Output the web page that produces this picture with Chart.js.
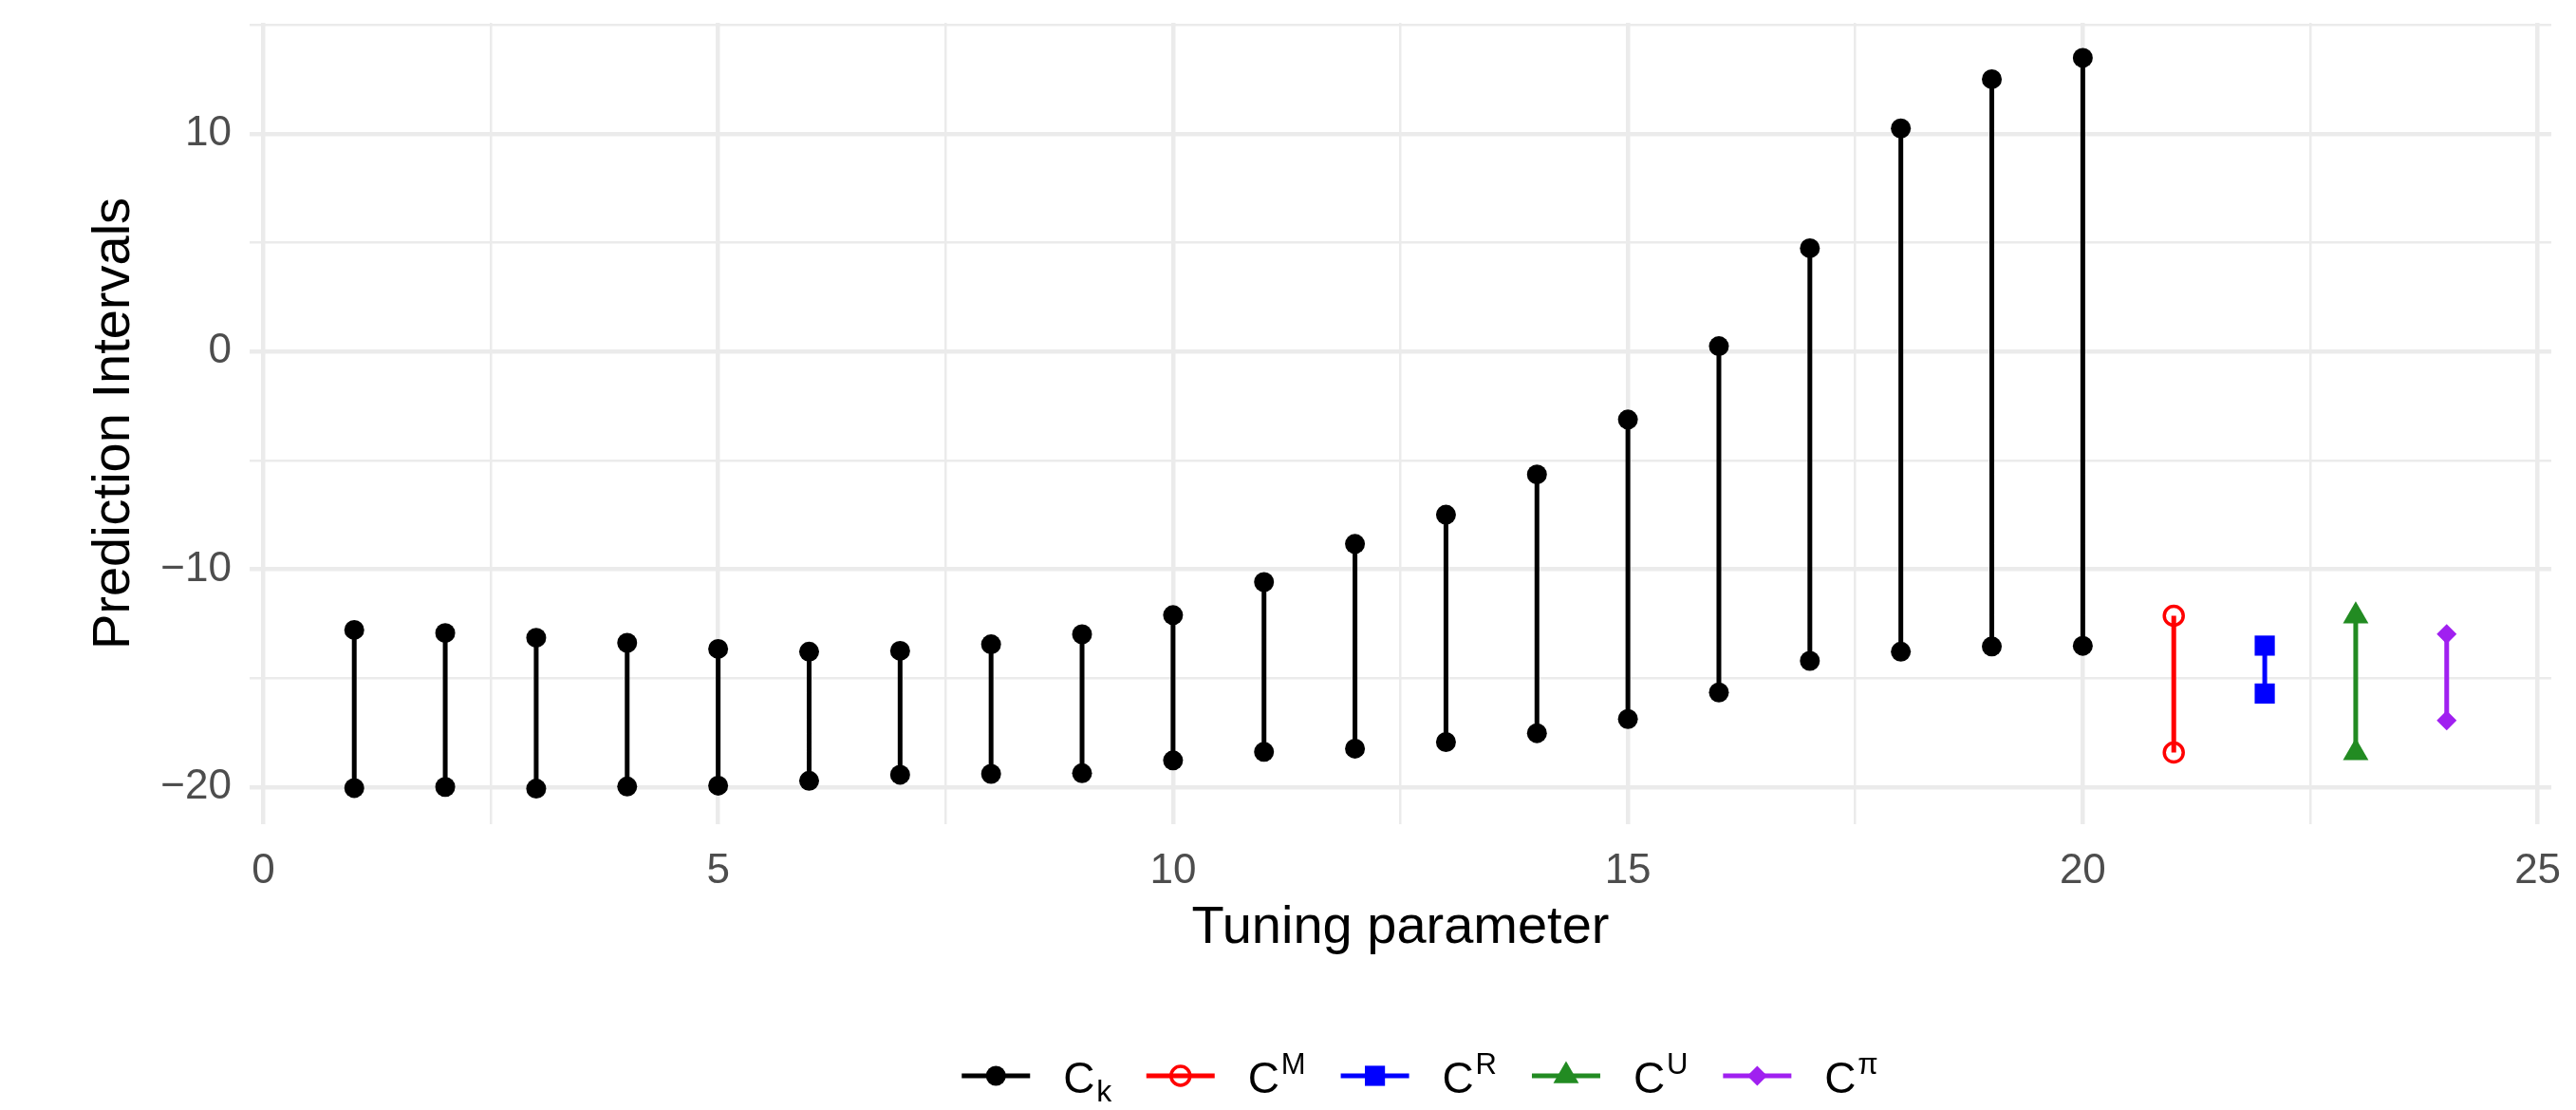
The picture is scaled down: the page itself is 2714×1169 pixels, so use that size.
<!DOCTYPE html>
<html>
<head>
<meta charset="utf-8">
<title>Prediction Intervals</title>
<script src="https://cdn.jsdelivr.net/npm/chart.js@4.4.0/dist/chart.umd.min.js"></script>
<style>
  html, body { margin: 0; padding: 0; background: #ffffff; }
  #wrap { width: 2714px; height: 1169px; }
</style>
</head>
<body>
<div id="wrap"><canvas id="myChart" width="2714" height="1169"></canvas></div>
<script>
// values
const tuning = [1, 2, 3, 4, 5, 6, 7, 8, 9, 10, 11, 12, 13, 14, 15, 16, 17, 18, 19, 20];
const ckLower = [-20.04, -19.99, -20.07, -19.97, -19.93, -19.71, -19.43, -19.39, -19.36, -18.77,
                 -18.38, -18.23, -17.93, -17.52, -16.87, -15.65, -14.20, -13.78, -13.54, -13.51];
const ckUpper = [-12.78, -12.92, -13.14, -13.37, -13.65, -13.78, -13.74, -13.44, -12.98, -12.10,
                 -10.58, -8.83, -7.49, -5.64, -3.12, 0.25, 4.75, 10.25, 12.51, 13.49];

const methodNames = ["M", "R", "U", "\u03C0"];
const methodX = [21, 22, 23, 24];
const methodLower = [-18.41, -15.70, -18.42, -16.94];
const methodUpper = [-12.13, -13.50, -12.14, -12.97];

const xTickLabels = [0, 5, 10, 15, 20, 25];
const yTickLabels = [-20, -10, 0, 10];

const FONT = '"Liberation Sans", Arial, Helvetica, sans-serif';
const GRID = "#EBEBEB";

// one dataset = many vertical segments, split with null points
function segments(xs, lo, hi) {
  const out = [];
  xs.forEach((x, i) => {
    out.push({ x: x, y: lo[i] });
    out.push({ x: x, y: hi[i] });
    out.push({ x: x, y: null });
  });
  return out;
}

const seriesStyles = [
  { color: "#000000", pointStyle: "circle", radius: 10.5, fill: "#000000", pointBorder: 0 },
  { color: "#FF0000", pointStyle: "circle", radius: 10, fill: "rgba(0,0,0,0)", pointBorder: 3.5 },
  { color: "#0000FF", pointStyle: "rect", radius: 15, fill: "#0000FF", pointBorder: 0 },
  { color: "#228B22", pointStyle: "triangle", radius: 15.5, fill: "#228B22", pointBorder: 0 },
  { color: "#A020F0", pointStyle: "rectRot", radius: 10.5, fill: "#A020F0", pointBorder: 0 }
];
const legendScripts = ["k"].concat(methodNames);
const legendScriptType = ["sub", "sup", "sup", "sup", "sup"];

const datasets = seriesStyles.map((s, i) => {
  const data = i === 0
    ? segments(tuning, ckLower, ckUpper)
    : segments([methodX[i - 1]], [methodLower[i - 1]], [methodUpper[i - 1]]);
  return {
    label: "C" + legendScripts[i],
    data: data,
    showLine: true,
    spanGaps: false,
    borderColor: s.color,
    borderWidth: 5,
    pointStyle: s.pointStyle,
    pointRadius: s.radius,
    pointBackgroundColor: s.fill,
    pointBorderColor: s.color,
    pointBorderWidth: s.pointBorder,
    pointHoverRadius: s.radius
  };
});

// legend under the plot, C with sub/superscripts
const ggLegend = {
  id: "ggLegend",
  afterDraw(chart) {
    const ctx = chart.ctx;
    const lineY = 1133;
    const keyW = 72, textOff = 107, scriptOff = 142, gap = 37;
    ctx.save();
    ctx.font = "31px " + FONT;
    const widths = legendScripts.map(t => ctx.measureText(t).width);
    let total = 0;
    widths.forEach((w, i) => { total += scriptOff + w + (i < widths.length - 1 ? gap : 0); });
    let x = 1496 - total / 2;
    chart.data.datasets.forEach((ds, i) => {
      const s = seriesStyles[i];
      ctx.strokeStyle = s.color;
      ctx.lineWidth = 5;
      ctx.beginPath();
      ctx.moveTo(x, lineY);
      ctx.lineTo(x + keyW, lineY);
      ctx.stroke();
      ctx.fillStyle = s.fill;
      ctx.lineWidth = s.pointBorder;
      Chart.helpers.drawPoint(ctx, {
        pointStyle: s.pointStyle, radius: s.radius, rotation: 0, borderWidth: s.pointBorder
      }, x + keyW / 2, lineY);

      ctx.fillStyle = "#000000";
      ctx.textAlign = "left";
      ctx.textBaseline = "alphabetic";
      ctx.font = "46px " + FONT;
      ctx.fillText("C", x + textOff, 1151);
      ctx.font = (legendScriptType[i] === "sub" ? "32px " : "31px ") + FONT;
      ctx.fillText(legendScripts[i], x + scriptOff, legendScriptType[i] === "sub" ? 1160 : 1131);
      x += scriptOff + widths[i] + gap;
    });
    ctx.restore();
  }
};

const ctx = document.getElementById("myChart").getContext("2d");
const myChart = new Chart(ctx, {
  type: "line",
  data: { datasets: datasets },
  plugins: [ggLegend],
  options: {
    responsive: false,
    animation: false,
    devicePixelRatio: 1,
    events: [],
    layout: { padding: { top: 24, right: 26, bottom: 158, left: 0 } },
    plugins: {
      legend: { display: false },
      tooltip: { enabled: false }
    },
    scales: {
      x: {
        type: "linear",
        min: -0.15,
        max: 25.15,
        afterFit: scale => {
          scale.height = 143;
          scale.paddingLeft = 0;
          scale.paddingRight = 0;
        },
        border: { display: false },
        grid: {
          color: GRID,
          drawTicks: false,
          lineWidth: c => (xTickLabels.includes(c.tick.value) ? 4.5 : 2.5)
        },
        ticks: {
          stepSize: 2.5,
          includeBounds: false,
          autoSkip: false,
          maxRotation: 0,
          padding: 23,
          color: "#4D4D4D",
          font: { family: FONT, size: 44 },
          callback: v => (xTickLabels.includes(v) ? String(v) : "")
        },
        title: {
          display: true,
          text: "Tuning parameter",
          color: "#000000",
          font: { family: FONT, size: 56 },
          padding: { top: 0, bottom: 0 }
        }
      },
      y: {
        type: "linear",
        min: -21.7,
        max: 15.1,
        afterFit: scale => {
          scale.width = 263;
          scale.paddingTop = 0;
          scale.paddingBottom = 0;
        },
        border: { display: false },
        grid: {
          color: GRID,
          drawTicks: false,
          lineWidth: c => (yTickLabels.includes(c.tick.value) ? 4.5 : 2.5)
        },
        ticks: {
          stepSize: 5,
          includeBounds: false,
          autoSkip: false,
          padding: 19,
          color: "#4D4D4D",
          font: { family: FONT, size: 44 },
          callback: v => (yTickLabels.includes(v) ? (v < 0 ? "\u2212" + Math.abs(v) : String(v)) : "")
        },
        title: {
          display: true,
          text: "Prediction Intervals",
          color: "#000000",
          font: { family: FONT, size: 56 },
          padding: { top: 87, bottom: 0 }
        }
      }
    }
  }
});
</script>
</body>
</html>
